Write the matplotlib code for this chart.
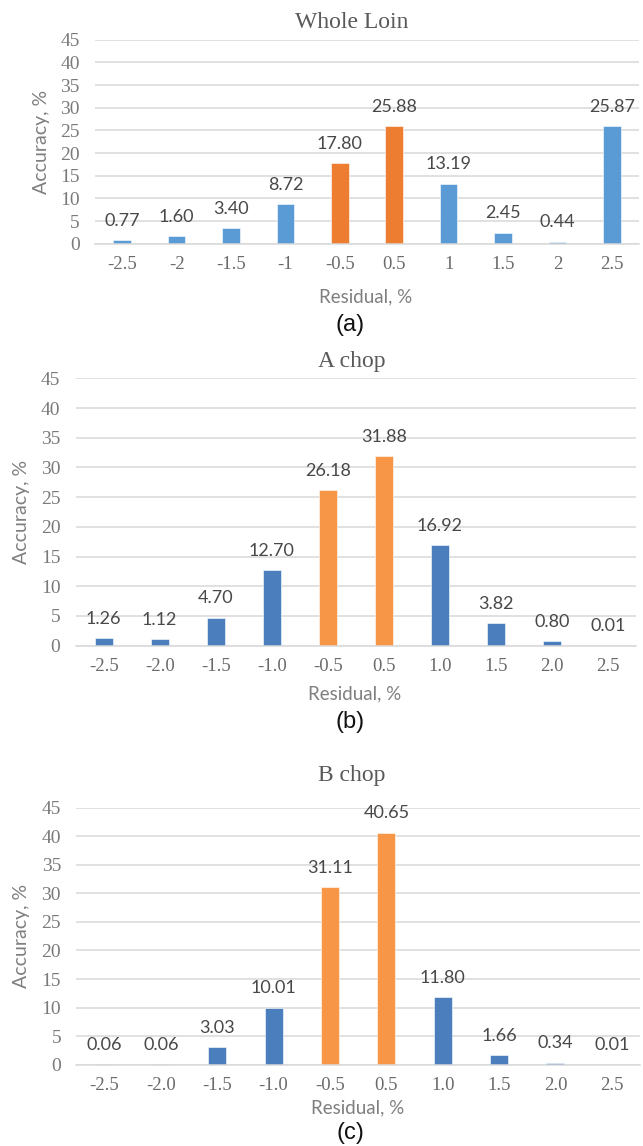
import matplotlib
matplotlib.use("Agg")
import matplotlib.pyplot as plt

W, H = 643, 1146

categories_a = ["-2.5", "-2", "-1.5", "-1", "-0.5", "0.5", "1", "1.5", "2", "2.5"]
categories_bc = ["-2.5", "-2.0", "-1.5", "-1.0", "-0.5", "0.5", "1.0", "1.5", "2.0", "2.5"]

whole_loin = [0.77, 1.60, 3.40, 8.72, 17.80, 25.88, 13.19, 2.45, 0.44, 25.87]
a_chop = [1.26, 1.12, 4.70, 12.70, 26.18, 31.88, 16.92, 3.82, 0.80, 0.01]
b_chop = [0.06, 0.06, 3.03, 10.01, 31.11, 40.65, 11.80, 1.66, 0.34, 0.01]

titles = ["Whole Loin", "A chop", "B chop"]
panel_tags = ["(a)", "(b)", "(c)"]
highlight = ["-0.5", "0.5"]
yticks = [0, 5, 10, 15, 20, 25, 30, 35, 40, 45]

panels = [
    dict(cats=categories_a, vals=whole_loin, blue="#5B9BD5", orange="#ED7D31",
         rect=(95, 639, 39.7, 243.7), title_y=22, ylab_x=42, res_y=296.7, tag_y=325),
    dict(cats=categories_bc, vals=a_chop, blue="#4A7EBD", orange="#F79646",
         rect=(75.7, 635.7, 378.3, 645.7), title_y=361.7, ylab_x=22, res_y=694.3, tag_y=721.7),
    dict(cats=categories_bc, vals=b_chop, blue="#4A7EBD", orange="#F79646",
         rect=(76.3, 640, 807.7, 1064.7), title_y=775, ylab_x=22, res_y=1108, tag_y=1133),
]

fig = plt.figure(figsize=(W / 100, H / 100), dpi=100)
fig.patch.set_facecolor("white")

serif = "Liberation Serif"
sans = "Lato"

for k, p in enumerate(panels):
    l, r, t, b = p["rect"]
    ax = fig.add_axes([l / W, 1 - b / H, (r - l) / W, (b - t) / H])
    x = list(range(len(p["cats"])))
    colors = [p["orange"] if c in highlight else p["blue"] for c in p["cats"]]
    ax.bar(x, p["vals"], width=0.32, color=colors, edgecolor="white", linewidth=0.4, zorder=3)
    ax.set_xlim(-0.5, len(x) - 0.5)
    ax.set_ylim(0, 45)
    ax.set_yticks(yticks)
    ax.set_xticks(x)
    ax.set_xticklabels(p["cats"], fontfamily=serif, fontsize=13.5, color="#6a6a6a")
    ax.set_yticklabels([str(v) for v in yticks], fontfamily=serif, fontsize=14, color="#7a7a7a")
    ax.tick_params(axis="both", length=0)
    ax.tick_params(axis="x", pad=8.5)
    ax.tick_params(axis="y", pad=11)
    ax.grid(axis="y", color="#D9D9D9", linewidth=1.1, zorder=0)
    for s in ["top", "right", "left"]:
        ax.spines[s].set_visible(False)
    ax.spines["bottom"].set_color("#D9D9D9")
    ax.spines["bottom"].set_linewidth(1.1)
    ax.spines["bottom"].set_zorder(4)
    for xi, v in zip(x, p["vals"]):
        ax.annotate(f"{v:.2f}", xy=(xi, v), xytext=(0, 14), textcoords="offset points",
                    ha="center", va="center", fontfamily=sans, fontsize=13, color="#484848")

    fig.text(352 / W, 1 - p["title_y"] / H, titles[k], ha="center", va="center",
             fontfamily=serif, fontsize=17, color="#595959")
    fig.text(p["ylab_x"] / W, 1 - ((t + b) / 2) / H, "Accuracy, %", rotation=90,
             ha="center", va="center", fontfamily=sans, fontsize=14, color="#7f7f7f")
    fig.text(((l + r) / 2 - 1) / W, 1 - p["res_y"] / H, "Residual, %", ha="center", va="center",
             fontfamily=sans, fontsize=13.5, color="#7f7f7f")
    fig.text(350 / W, 1 - p["tag_y"] / H, panel_tags[k], ha="center", va="center",
             fontfamily="Liberation Sans", fontsize=17, color="#111111")

fig.savefig("out.png", dpi=100, facecolor="white")
